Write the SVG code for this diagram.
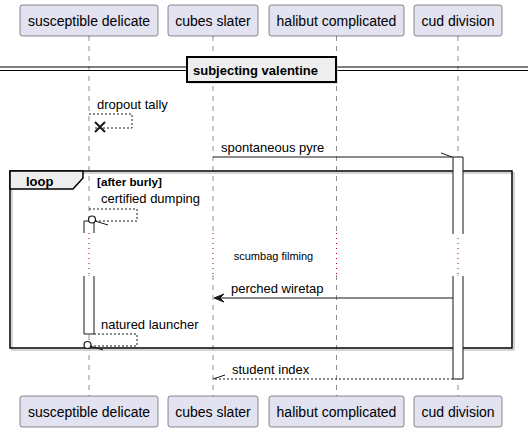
<svg xmlns="http://www.w3.org/2000/svg" width="528" height="432" viewBox="0 0 528 432">
<style>
.pbox{fill:#E2E2F0;stroke:#181818;stroke-width:0.5}
.ptxt{font-family:"Liberation Sans",Arial,sans-serif;font-size:14px;fill:#000;text-anchor:middle}
.life{stroke:#181818;stroke-width:0.5;stroke-dasharray:5,5;fill:none}
.delay{stroke:#A80036;stroke-width:1;stroke-dasharray:1,4;fill:none}
.act{fill:#FFFFFF;stroke:none}
.actl{stroke:#181818;stroke-width:1;fill:none}
.msg{stroke:#181818;stroke-width:1;fill:none}
.dash{stroke:#181818;stroke-width:1;fill:none;stroke-dasharray:2,2}
.mtxt{font-family:"Liberation Sans",Arial,sans-serif;font-size:13px;fill:#000}
.stxt{font-family:"Liberation Sans",Arial,sans-serif;font-size:11px;fill:#000;text-anchor:middle}
.btxt{font-family:"Liberation Sans",Arial,sans-serif;font-weight:bold;fill:#000}
</style>
<rect width="528" height="432" fill="#FFFFFF"/>

<g id="lifelines">
<path class="life" d="M89,36V233M89,275V396M213,36V233M213,275V396M336.5,36V233M336.5,275V396M458,36V233M458,275V396"/>
<path class="delay" d="M89,233V275M213,233V275M336.5,233V275M458,233V275"/>
</g>

<g id="divider">
<path d="M0,67H528M0,70.5H528" stroke="#000" stroke-width="1" fill="none"/>
<rect x="189" y="59" width="149" height="25" fill="#C8C8C8" opacity="0.5"/>
<rect x="187" y="57" width="149" height="25" fill="#EEEEEE" stroke="#000" stroke-width="2"/>
<text class="btxt" x="193" y="75" font-size="13">subjecting valentine</text>
</g>

<g id="loop">
<rect x="12" y="173" width="502" height="177" fill="none" stroke="#C8C8C8" stroke-width="1.5"/>
<rect x="10" y="171" width="502" height="177" fill="none" stroke="#000" stroke-width="1.5"/>
<path d="M10,171H83V178L73,189H10Z" fill="#EEEEEE" stroke="#000" stroke-width="1.5"/>
<text class="btxt" x="26" y="186" font-size="13">loop</text>
<text class="btxt" x="97" y="186" font-size="11.7">[after burly]</text>
</g>

<g id="activations">
<rect class="act" x="84" y="221" width="10" height="12"/>
<path class="actl" d="M84,233V221H94V233"/>
<rect class="act" x="84" y="276" width="10" height="58"/>
<path class="actl" d="M84,276V334H94V276"/>
<rect class="act" x="453" y="157" width="10" height="77"/>
<path class="actl" d="M453,234V157H463V234"/>
<rect class="act" x="453" y="276" width="10" height="103"/>
<path class="actl" d="M453,276V379H463V276"/>
</g>

<g id="connectors">
<g id="m-dropout">
<path class="dash" d="M89,114H132V128H95"/>
<path d="M95,122L105,132M95,132L105,122" stroke="#181818" stroke-width="2"/>
<text class="mtxt" x="97" y="109">dropout tally</text>
</g>
<g id="m-spontaneous">
<path class="msg" d="M213,157H453M441,153L452,157"/>
<text class="mtxt" x="221" y="152">spontaneous pyre</text>
</g>
<g id="m-certified">
<path class="dash" d="M89,209H137V221H96"/>
<circle cx="92" cy="219.5" r="3.5" fill="#FFFFFF" stroke="#181818" stroke-width="1.2"/>
<path class="msg" d="M95,221L108,225"/>
<text class="mtxt" x="101" y="203">certified dumping</text>
</g>
<g id="m-scumbag">
<text class="stxt" x="273.5" y="260">scumbag filming</text>
</g>
<g id="m-perched">
<path class="msg" d="M453,298H216"/>
<polygon points="214,298 224,294 220,298 224,302" fill="#181818" stroke="#181818" stroke-width="1"/>
<text class="mtxt" x="231" y="293">perched wiretap</text>
</g>
<g id="m-natured">
<path class="dash" d="M94,334H137V346H91"/>
<circle cx="87.5" cy="345" r="3.5" fill="#FFFFFF" stroke="#181818" stroke-width="1.2"/>
<path class="msg" d="M90,346L103,350"/>
<text class="mtxt" x="101" y="329">natured launcher</text>
</g>
<g id="m-student">
<path class="dash" d="M453,379H213"/>
<path class="msg" d="M213,379L225,375"/>
<text class="mtxt" x="232" y="374">student index</text>
</g>
</g>

<g id="p-susceptible">
<rect class="pbox" x="20" y="5" width="138" height="31" rx="2.5"/>
<text class="ptxt" x="89" y="26">susceptible delicate</text>
<rect class="pbox" x="20" y="396" width="138" height="31" rx="2.5"/>
<text class="ptxt" x="89" y="417">susceptible delicate</text>
</g>
<g id="p-cubes">
<rect class="pbox" x="168" y="5" width="90" height="31" rx="2.5"/>
<text class="ptxt" x="213" y="26">cubes slater</text>
<rect class="pbox" x="168" y="396" width="90" height="31" rx="2.5"/>
<text class="ptxt" x="213" y="417">cubes slater</text>
</g>
<g id="p-halibut">
<rect class="pbox" x="269" y="5" width="135" height="31" rx="2.5"/>
<text class="ptxt" x="336.5" y="26">halibut complicated</text>
<rect class="pbox" x="269" y="396" width="135" height="31" rx="2.5"/>
<text class="ptxt" x="336.5" y="417">halibut complicated</text>
</g>
<g id="p-cud">
<rect class="pbox" x="414" y="5" width="88" height="31" rx="2.5"/>
<text class="ptxt" x="458" y="26">cud division</text>
<rect class="pbox" x="414" y="396" width="88" height="31" rx="2.5"/>
<text class="ptxt" x="458" y="417">cud division</text>
</g>
</svg>
